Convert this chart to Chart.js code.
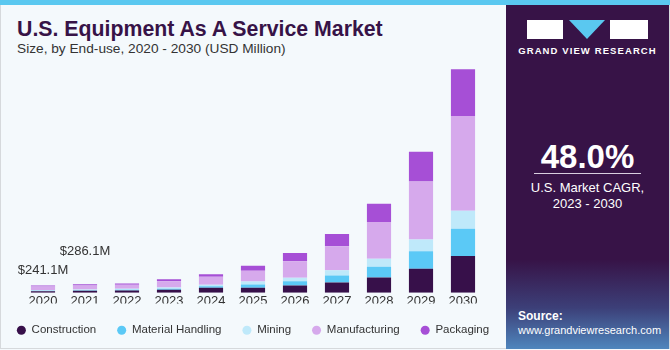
<!DOCTYPE html>
<html>
<head>
<meta charset="utf-8">
<title>U.S. Equipment As A Service Market</title>
<script src="https://cdn.jsdelivr.net/npm/chart.js@4.4.1/dist/chart.umd.min.js"></script>
<style>
  html, body { margin: 0; padding: 0; }
  body {
    width: 670px; height: 350px; overflow: hidden; position: relative;
    background: #f4f9fc;
    font-family: 'Liberation Sans', Arial, sans-serif;
  }
  .frame {
    position: absolute; left: 0; top: 0; width: 668px; height: 348px;
    border-left: 1px solid #d6d9dc; border-bottom: 1px solid #d6d9dc; border-right: 1px solid #d6d9dc;
  }
  .stripe { position: absolute; left: 0; top: 0; width: 670px; height: 5px; background: #5ac8f0; }
  h1 {
    position: absolute; left: 17px; top: 17px; margin: 0;
    font-size: 21.3px; font-weight: bold; color: #371347;
  }
  .sub {
    position: absolute; left: 17px; top: 41px;
    font-size: 13.7px; color: #333;
  }
  .chart { position: absolute; left: -7px; top: 62px; width: 520px; height: 284px; }
  .panel {
    position: absolute; left: 506px; top: 5px; width: 163px; height: 344px;
    background: linear-gradient(to bottom, #371347 0%, #371347 74%, #3c3f78 88%, #4f86bd 100%);
    color: #fff;
  }
  .logo { position: absolute; top: 15px; left: 21px; width: 121px; height: 19px; }
  .logo .b1 { position: absolute; left: 0; top: 0; width: 36px; height: 19px; background: #fff; }
  .logo .b3 { position: absolute; left: 83px; top: 0; width: 38px; height: 19px; background: #fff; }
  .logo .tri {
    position: absolute; left: 42px; top: 0; width: 0; height: 0;
    border-left: 18.5px solid transparent; border-right: 18.5px solid transparent; border-top: 19px solid #5ac8f0;
  }
  .brand {
    position: absolute; top: 40px; left: 0; width: 163px; text-align: center;
    font-size: 9.5px; font-weight: bold; letter-spacing: 1.1px;
  }
  .cagr {
    position: absolute; top: 133px; left: 0; width: 163px; text-align: center;
    font-size: 33px; font-weight: bold;
  }
  .rule { position: absolute; top: 168px; left: 28px; width: 107px; height: 1px; background: #d9cfe0; }
  .cagr-l {
    position: absolute; top: 175px; left: 0; width: 163px; text-align: center;
    font-size: 13px; line-height: 16px;
  }
  .src { position: absolute; left: 12px; top: 304px; font-size: 11px; line-height: 14px; }
  .src b { display: block; font-size: 12px; }
</style>
</head>
<body>
<div class="frame"></div>
<div class="stripe"></div>
<h1>U.S. Equipment As A Service Market</h1>
<div class="sub">Size, by End-use, 2020 - 2030 (USD Million)</div>
<div class="chart"><canvas id="market"></canvas></div>
<div class="panel">
  <div class="logo"><div class="b1"></div><div class="tri"></div><div class="b3"></div></div>
  <div class="brand">GRAND VIEW RESEARCH</div>
  <div class="cagr">48.0%</div>
  <div class="rule"></div>
  <div class="cagr-l">U.S. Market CAGR,<br>2023 - 2030</div>
  <div class="src"><b>Source:</b>www.grandviewresearch.com</div>
</div>
<script>
  const years = ['2020', '2021', '2022', '2023', '2024', '2025', '2026', '2027', '2028', '2029', '2030'];

  // USD Million
  const construction = [53, 66, 76, 99, 165, 165, 241, 340, 505, 792, 1221];
  const materialHandling = [13, 20, 23, 33, 53, 109, 142, 231, 353, 581, 901];
  const mining = [20, 23, 33, 43, 46, 99, 112, 175, 264, 386, 594];
  const manufacturing = [122, 132, 132, 208, 264, 353, 548, 792, 1221, 1924, 3135];
  const packaging = [33.1, 45.1, 43, 66, 86, 165, 277, 409, 604, 980, 1541];

  const totalLabels = ['$241.1M', '$286.1M'];

  const series = [
    { label: 'Construction', data: construction, color: '#37104a' },
    { label: 'Material Handling', data: materialHandling, color: '#5bc9f6' },
    { label: 'Mining', data: mining, color: '#bfe9fa' },
    { label: 'Manufacturing', data: manufacturing, color: '#d6a9ec' },
    { label: 'Packaging', data: packaging, color: '#a64fd6' }
  ];

  const FONT = '"Liberation Sans", Arial, sans-serif';

  // writes $xxx.xM above the first two bars
  const totalsPlugin = {
    id: 'totals',
    afterDatasetsDraw(chart) {
      const ctx = chart.ctx;
      const x = chart.scales.x;
      const y = chart.scales.y;
      ctx.save();
      ctx.font = '13px ' + FONT;
      ctx.fillStyle = '#333';
      ctx.textAlign = 'center';
      ctx.textBaseline = 'bottom';
      totalLabels.forEach((text, i) => {
        let sum = series.reduce((s, d) => s + d.data[i], 0);
        let lift = i === 0 ? 9 : 26;
        ctx.fillText(text, x.getPixelForValue(i), y.getPixelForValue(sum) - lift);
      });
      ctx.restore();
    }
  };

  // empty side axes just to keep the bars inset while the legend uses the full width
  const spacer = (w, pos) => ({
    position: pos,
    display: true,
    grid: { display: false },
    border: { display: false },
    ticks: { display: false },
    afterFit(axis) { axis.width = w; }
  });

  new Chart(document.getElementById('market'), {
    type: 'bar',
    data: {
      labels: years,
      datasets: series.map(s => ({
        label: s.label,
        data: s.data,
        backgroundColor: s.color,
        borderColor: s.color,
        borderWidth: 0,
        categoryPercentage: 1,
        barPercentage: 0.575
      }))
    },
    options: {
      responsive: true,
      maintainAspectRatio: false,
      animation: false,
      layout: { padding: { left: 0, right: 0, top: 2.5, bottom: 0 } },
      plugins: {
        legend: {
          position: 'bottom',
          labels: {
            usePointStyle: true,
            pointStyle: 'circle',
            pointStyleWidth: 9,
            boxHeight: 6.4,
            padding: 21,
            color: '#333',
            font: { size: 11.5, family: FONT }
          }
        },
        tooltip: { enabled: false }
      },
      scales: {
        x: {
          stacked: true,
          grid: { display: false, drawTicks: false },
          border: { display: false },
          ticks: { color: '#333', padding: 1, font: { size: 13, family: FONT } },
          afterFit(axis) { axis.height = 10.7; }
        },
        y: Object.assign(spacer(29, 'left'), { stacked: true, min: 0, max: 7550 }),
        yRight: spacer(29, 'right')
      }
    },
    plugins: [totalsPlugin]
  });
</script>
</body>
</html>
